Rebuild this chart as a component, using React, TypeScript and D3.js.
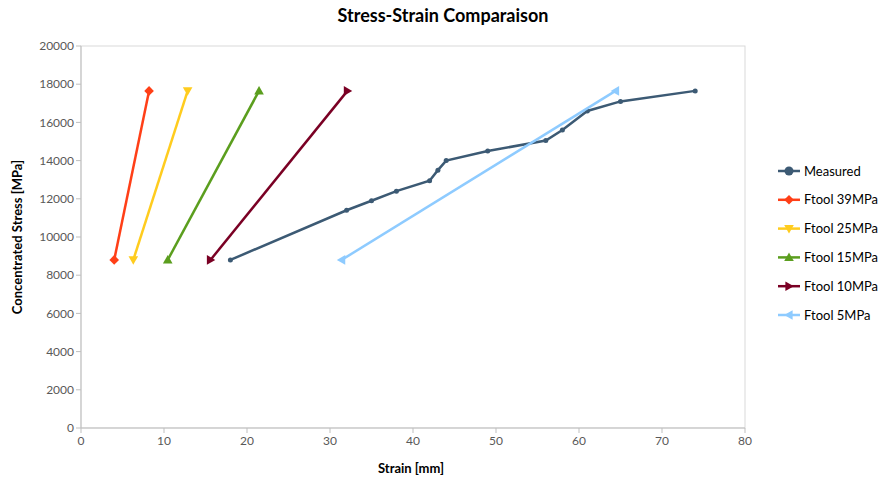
import React from "react";
import * as d3 from "d3";

const measuredX = [18, 32, 35, 38, 42, 43, 44, 49, 56, 58, 61, 65, 74];
const measuredY = [8800, 11400, 11900, 12400, 12950, 13500, 14000, 14500, 15050, 15600, 16600, 17100, 17650];

const ftoolY = [8800, 17650];
const ftool39X = [4.0, 8.2];
const ftool25X = [6.3, 12.85];
const ftool15X = [10.45, 21.45];
const ftool10X = [15.6, 32.1];
const ftool5X = [31.4, 64.4];

const xTicks = [0, 10, 20, 30, 40, 50, 60, 70, 80];
const yTicks = [0, 2000, 4000, 6000, 8000, 10000, 12000, 14000, 16000, 18000, 20000];

type Series = { name: string; xs: number[]; ys: number[]; color: string; marker: string };

const series: Series[] = [
  { name: "Measured", xs: measuredX, ys: measuredY, color: "#3C5A74", marker: "circle" },
  { name: "Ftool 39MPa", xs: ftool39X, ys: ftoolY, color: "#FF3F17", marker: "diamond" },
  { name: "Ftool 25MPa", xs: ftool25X, ys: ftoolY, color: "#FFCC1E", marker: "down" },
  { name: "Ftool 15MPa", xs: ftool15X, ys: ftoolY, color: "#5B9E1E", marker: "up" },
  { name: "Ftool 10MPa", xs: ftool10X, ys: ftoolY, color: "#7A0024", marker: "right" },
  { name: "Ftool 5MPa", xs: ftool5X, ys: ftoolY, color: "#8ECBFF", marker: "left" },
];

const FONT = "Lato, 'Open Sans', sans-serif";

function Marker({ kind, x, y, color, s }: { kind: string; x: number; y: number; color: string; s: number }) {
  switch (kind) {
    case "circle":
      return <circle cx={x} cy={y} r={s * 0.5} fill={color} />;
    case "diamond":
      return <path d={`M${x},${y - s * 0.6}L${x + s * 0.6},${y}L${x},${y + s * 0.6}L${x - s * 0.6},${y}Z`} fill={color} />;
    case "down":
      return <path d={`M${x - s * 0.6},${y - s * 0.45}L${x + s * 0.6},${y - s * 0.45}L${x},${y + s * 0.6}Z`} fill={color} />;
    case "up":
      return <path d={`M${x - s * 0.6},${y + s * 0.45}L${x + s * 0.6},${y + s * 0.45}L${x},${y - s * 0.6}Z`} fill={color} />;
    case "right":
      return <path d={`M${x - s * 0.45},${y - s * 0.6}L${x - s * 0.45},${y + s * 0.6}L${x + s * 0.6},${y}Z`} fill={color} />;
    case "left":
      return <path d={`M${x + s * 0.45},${y - s * 0.6}L${x + s * 0.45},${y + s * 0.6}L${x - s * 0.6},${y}Z`} fill={color} />;
  }
  return null;
}

export default function App() {
  const W = 881, H = 479;
  const left = 81, right = 745, top = 46, bottom = 428;
  const x = d3.scaleLinear().domain([0, 80]).range([left, right]);
  const y = d3.scaleLinear().domain([0, 20000]).range([bottom, top]);
  const line = d3.line<[number, number]>().x((d) => x(d[0])).y((d) => y(d[1]));
  const axisColor = "#D9D9D9";
  const tickText = "#595959";

  return (
    <svg width={W} height={H} style={{ position: "absolute", left: 0, top: 0, background: "#fff" }}>
      <rect x={0} y={0} width={W} height={H} fill="#fff" />
      <text x={443} y={22} textAnchor="middle" fontFamily={FONT} fontWeight="bold" fontSize={18} fill="#000">
        Stress-Strain Comparaison
      </text>
      <rect x={left} y={top} width={right - left} height={bottom - top} fill="none" stroke={axisColor} strokeWidth={1} />
      <line x1={left} x2={left} y1={top} y2={bottom} stroke="#BFBFBF" />
      <line x1={left} x2={right} y1={bottom} y2={bottom} stroke="#BFBFBF" />
      {yTicks.map((t) => (
        <g key={"y" + t}>
          <line x1={left - 5} x2={left} y1={y(t)} y2={y(t)} stroke="#BFBFBF" />
          <text x={left - 7} y={y(t)} dy="0.35em" textAnchor="end" fontFamily={FONT} fontSize={12} fill={tickText}>
            {t}
          </text>
        </g>
      ))}
      {xTicks.map((t) => (
        <g key={"x" + t}>
          <line x1={x(t)} x2={x(t)} y1={bottom} y2={bottom + 5} stroke="#BFBFBF" />
          <text x={x(t)} y={bottom + 17} textAnchor="middle" fontFamily={FONT} fontSize={12} fill={tickText}>
            {t}
          </text>
        </g>
      ))}
      <text x={411} y={473} textAnchor="middle" fontFamily={FONT} fontWeight="bold" fontSize={13} fill="#000">
        Strain [mm]
      </text>
      <text
        transform={`translate(22,${(top + bottom) / 2}) rotate(-90)`}
        textAnchor="middle"
        fontFamily={FONT}
        fontWeight="bold"
        fontSize={13}
        fill="#000"
      >
        Concentrated Stress [MPa]
      </text>
      {series.map((s) => {
        const pts: [number, number][] = s.xs.map((v, i) => [v, s.ys[i]]);
        return (
          <g key={s.name}>
            <path d={line(pts) || ""} fill="none" stroke={s.color} strokeWidth={2.5} />
            {pts.map((p, i) => (
              <Marker key={i} kind={s.marker} x={x(p[0])} y={y(p[1])} color={s.color} s={s.marker === "circle" ? 5 : 8} />
            ))}
          </g>
        );
      })}
      {series.map((s, i) => {
        const ly = 171 + i * 28.8;
        return (
          <g key={"lg" + s.name}>
            <line x1={778} x2={800} y1={ly} y2={ly} stroke={s.color} strokeWidth={2.5} />
            <Marker kind={s.marker} x={789} y={ly} color={s.color} s={s.marker === "circle" ? 9 : 8} />
            <text x={804} y={ly} dy="0.35em" fontFamily={FONT} fontSize={13} fill="#000">
              {s.name}
            </text>
          </g>
        );
      })}
    </svg>
  );
}
